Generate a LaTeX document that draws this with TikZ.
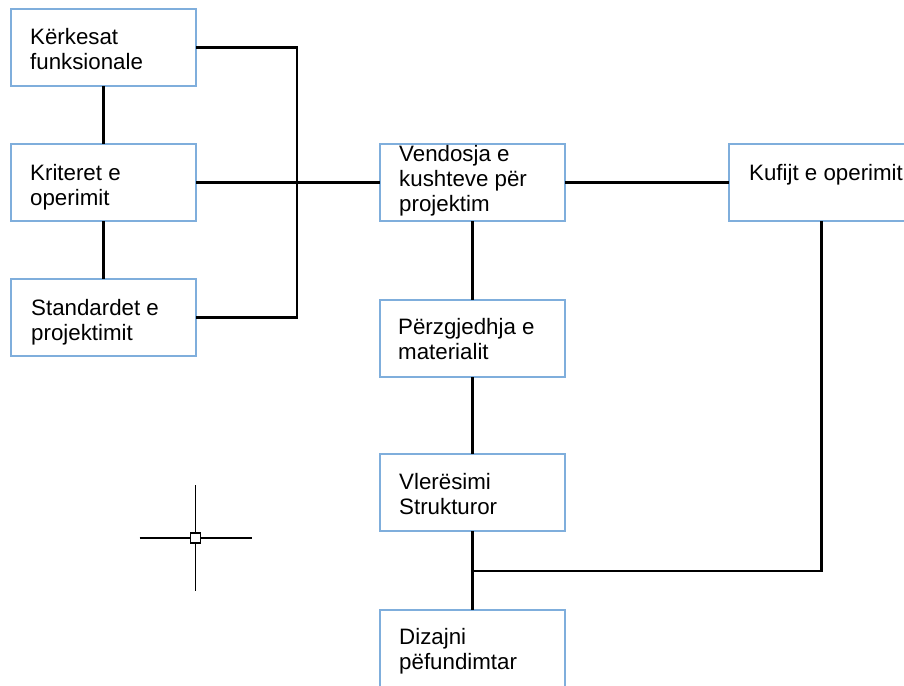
\documentclass[tikz,border=0pt]{standalone}
\usepackage{fontspec}
\setmainfont{Liberation Sans}
\definecolor{boxblue}{HTML}{7FAEDC}
\newcommand{\bxtext}[1]{\parbox[t]{300pt}{\raggedright\fontsize{22.3pt}{25pt}\selectfont #1}}
\begin{document}
\begin{tikzpicture}[x=1pt,y=-1pt,
  bx/.style={draw=boxblue, line width=1.6pt, fill=white, rectangle, anchor=north west,
    minimum width=185pt, minimum height=77pt, inner sep=0pt, outer sep=0pt},
  txt/.style={anchor=base west, inner sep=0pt, text=black},
  conn/.style={draw=black, line width=2.2pt}]
\useasboundingbox[fill=white] (0,0) rectangle (904,685);
% boxes
\node[bx] (k1) at (11,9) {};
\node[bx] (k2) at (11,144) {};
\node[bx] (k3) at (11,279) {};
\node[bx] (v) at (380,144) {};
\node[bx] (kuf) at (729,144) {};
\node[bx] (p) at (380,300) {};
\node[bx] (s) at (380,454) {};
\node[bx] (d) at (380,610) {};
% connectors
\draw[conn] (k1.south) -- (k2.north);
\draw[conn] (k2.south) -- (k3.north);
\draw[conn] (k1.east) -- ++(101,0) |- (k3.east);
\draw[conn] (k2.east) -- (v.west);
\draw[conn] (v.east) -- (kuf.west);
\draw[conn] (v.south) -- (p.north);
\draw[conn] (p.south) -- (s.north);
\draw[conn] (s.south) -- (d.north);
\coordinate (j) at (472.5,571);
\draw[conn] (kuf.south) |- (j);
% texts
\node[txt] (t1) at (30,45) {\bxtext{Kërkesat\\funksionale}};
\node[txt] (t2) at (30,180) {\bxtext{Kriteret e\\operimit}};
\node[txt] (t3) at (31,315) {\bxtext{Standardet e\\projektimit}};
\node[txt] (t4) at (399,161) {\bxtext{Vendosja e\\kushteve për\\projektim}};
\node[txt] (t5) at (749,180) {\bxtext{Kufijt e operimit}};
\node[txt] (t6) at (398,334) {\bxtext{Përzgjedhja e\\materialit}};
\node[txt] (t7) at (399,489) {\bxtext{Vlerësimi\\Strukturor}};
\node[txt] (t8) at (399,644) {\bxtext{Dizajni\\pëfundimtar}};
% crosshair cursor
\coordinate (c) at (195.5,538);
\draw[line width=1.8pt] (c) ++(0,-53) -- ++(0,48) (c) ++(0,5) -- ++(0,48);
\draw[line width=1.8pt] (c) ++(-56,0) -- ++(51,0) (c) ++(5,0) -- ++(51,0);
\draw[line width=1.8pt] (c) ++(-5,-5) rectangle ++(10,10);
\end{tikzpicture}
\end{document}
